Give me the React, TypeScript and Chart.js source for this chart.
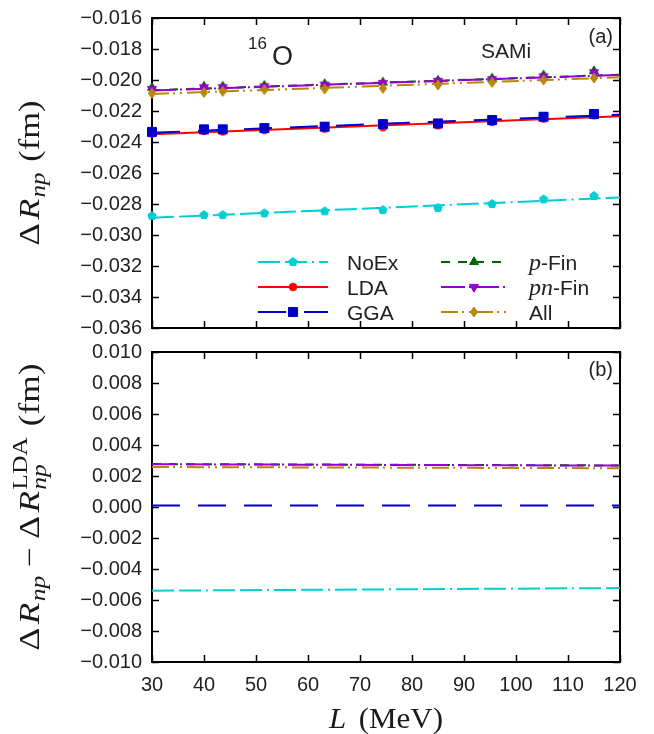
import React, { useEffect, useRef } from "react";
import { Chart, registerables } from "chart.js";
Chart.register(...registerables);

// ---------------- data ----------------
const L_POINTS = [30, 40, 43.6, 51.6, 63.2, 74.4, 85.0, 95.4, 105.3, 115.0];
const NOEX_PTS = [-0.02877, -0.02871, -0.02871, -0.0286, -0.02847, -0.02839, -0.02826, -0.028, -0.0277, -0.02748];
const LDA_PTS = [-0.02345, -0.02329, -0.02332, -0.02323, -0.02314, -0.02305, -0.02292, -0.02271, -0.02249, -0.02228];
const GGA_PTS = [-0.02335, -0.02318, -0.02318, -0.0231, -0.02301, -0.02284, -0.0228, -0.02258, -0.02237, -0.02219];
const PFIN_PTS = [-0.0205, -0.02042, -0.02042, -0.02036, -0.02026, -0.02016, -0.02004, -0.0199, -0.0197, -0.01943];
const PNFIN_PTS = [-0.02058, -0.02047, -0.02047, -0.02041, -0.0203, -0.0202, -0.02006, -0.01994, -0.01976, -0.0195];
const ALL_PTS = [-0.02086, -0.0208, -0.02073, -0.02062, -0.02058, -0.02054, -0.02032, -0.02015, -0.02, -0.01987];

const FIT_L = [30, 120];
const NOEX_FIT = [-0.02889, -0.02758];
const LDA_FIT = [-0.0235, -0.02234];
const GGA_FIT = [-0.0234, -0.02224];
const PFIN_FIT = [-0.02066, -0.01966];
const PNFIN_FIT = [-0.02068, -0.01967];
const ALL_FIT = [-0.0209, -0.01983];

const NOEX_DIFF = [-0.0054, -0.00523];
const GGA_DIFF = [0.0001, 0.0001];
const PFIN_DIFF = [0.00277, 0.00268];
const PNFIN_DIFF = [0.00276, 0.00267];
const ALL_DIFF = [0.00258, 0.0025];

const X_TICKS = [30, 40, 50, 60, 70, 80, 90, 100, 110, 120];
const TOP_Y_TICKS = [-0.036, -0.034, -0.032, -0.03, -0.028, -0.026, -0.024, -0.022, -0.02, -0.018, -0.016];
const BOT_Y_TICKS = [-0.01, -0.008, -0.006, -0.004, -0.002, 0, 0.002, 0.004, 0.006, 0.008, 0.01];

// ---------------- styles ----------------
const SANS = "Liberation Sans";
const SERIF = "Liberation Serif";

function makeMarker(shape: string, color: string): HTMLCanvasElement {
  const size = 16;
  const c = document.createElement("canvas");
  c.width = size;
  c.height = size;
  const ctx = c.getContext("2d") as CanvasRenderingContext2D;
  ctx.fillStyle = color;
  ctx.strokeStyle = color;
  ctx.lineWidth = 1;
  const cx = size / 2,
    cy = size / 2;
  ctx.beginPath();
  const poly = (n: number, r: number, a0: number) => {
    for (let k = 0; k < n; k++) {
      const a = a0 + (k * 2 * Math.PI) / n;
      const px = cx + r * Math.cos(a),
        py = cy + r * Math.sin(a);
      if (k === 0) ctx.moveTo(px, py);
      else ctx.lineTo(px, py);
    }
    ctx.closePath();
  };
  if (shape === "circle") ctx.arc(cx, cy, 3.8, 0, Math.PI * 2);
  else if (shape === "square") ctx.rect(cx - 4.5, cy - 4.5, 9, 9);
  else if (shape === "pentagon") poly(5, 4.4, -Math.PI / 2);
  else if (shape === "triUp") poly(3, 5.2, -Math.PI / 2);
  else if (shape === "triDown") poly(3, 5.2, Math.PI / 2);
  else if (shape === "diamond") {
    ctx.moveTo(cx, cy - 5);
    ctx.lineTo(cx + 3.6, cy);
    ctx.lineTo(cx, cy + 5);
    ctx.lineTo(cx - 3.6, cy);
    ctx.closePath();
  }
  ctx.fill();
  ctx.stroke();
  return c;
}

type Piece = { t?: string; f?: string; dy?: number; gap?: number; sup?: string; sub?: string; supF?: string; subF?: string };

const SERIES = [
  { color: "#00CED1", dash: [22, 5, 22, 5, 2, 5], marker: "pentagon", pts: NOEX_PTS, fit: NOEX_FIT, diff: NOEX_DIFF,
    label: [{ t: "NoEx", f: `21px ${SANS}` }] as Piece[] },
  { color: "#FF0000", dash: [], marker: "circle", pts: LDA_PTS, fit: LDA_FIT, diff: null as number[] | null,
    label: [{ t: "LDA", f: `21px ${SANS}` }] as Piece[] },
  { color: "#0000CD", dash: [28, 18], marker: "square", pts: GGA_PTS, fit: GGA_FIT, diff: GGA_DIFF,
    label: [{ t: "GGA", f: `21px ${SANS}` }] as Piece[] },
  { color: "#006400", dash: [9, 8], marker: "triUp", pts: PFIN_PTS, fit: PFIN_FIT, diff: PFIN_DIFF,
    label: [{ t: "p", f: `italic 24px ${SERIF}` }, { t: "-Fin", f: `21px ${SANS}` }] as Piece[] },
  { color: "#9400D3", dash: [24, 4, 2, 4], marker: "triDown", pts: PNFIN_PTS, fit: PNFIN_FIT, diff: PNFIN_DIFF,
    label: [{ t: "pn", f: `italic 24px ${SERIF}` }, { t: "-Fin", f: `21px ${SANS}` }] as Piece[] },
  { color: "#B8860B", dash: [17, 4, 2, 5, 2, 5], marker: "diamond", pts: ALL_PTS, fit: ALL_FIT, diff: ALL_DIFF,
    label: [{ t: "All", f: `21px ${SANS}` }] as Piece[] },
];

const fmt = (v: number) => (v < -1e-9 ? "\u2212" : "") + Math.abs(v).toFixed(3);

function richWidth(ctx: CanvasRenderingContext2D, pieces: Piece[]) {
  let w = 0;
  for (const p of pieces) {
    if (p.sup !== undefined) {
      ctx.font = p.supF as string;
      const a = ctx.measureText(p.sup).width;
      ctx.font = p.subF as string;
      const b = ctx.measureText(p.sub as string).width;
      w += Math.max(a, b) + (p.gap || 0);
    } else {
      ctx.font = p.f as string;
      w += ctx.measureText(p.t as string).width + (p.gap || 0);
    }
  }
  return w;
}

function drawRich(ctx: CanvasRenderingContext2D, pieces: Piece[], x: number, y: number) {
  let cx = x;
  ctx.textBaseline = "alphabetic";
  ctx.textAlign = "left";
  for (const p of pieces) {
    if (p.sup !== undefined) {
      ctx.font = p.supF as string;
      const a = ctx.measureText(p.sup).width;
      ctx.fillText(p.sup, cx, y - 12);
      ctx.font = p.subF as string;
      const b = ctx.measureText(p.sub as string).width;
      ctx.fillText(p.sub as string, cx, y + 7);
      cx += Math.max(a, b) + (p.gap || 0);
    } else {
      ctx.font = p.f as string;
      ctx.fillText(p.t as string, cx, y + (p.dy || 0));
      cx += ctx.measureText(p.t as string).width + (p.gap || 0);
    }
  }
}

function drawStretched(ctx: CanvasRenderingContext2D, pieces: Piece[], cx: number, cy: number, target: number, rotate: boolean) {
  const w = richWidth(ctx, pieces);
  const s = target / w;
  ctx.save();
  ctx.translate(cx, cy);
  if (rotate) ctx.rotate(-Math.PI / 2);
  ctx.scale(s, 1);
  ctx.fillStyle = "#1a1a1a";
  drawRich(ctx, pieces, -w / 2, 0);
  ctx.restore();
}

const framePlugin = {
  id: "frame",
  beforeDatasetsDraw(chart: any) {
    const { ctx, chartArea: a, scales } = chart;
    ctx.save();
    ctx.strokeStyle = "#000";
    ctx.lineWidth = 1.5;
    const tl = 7;
    ctx.beginPath();
    for (const t of scales.x.ticks) {
      const px = Math.round(scales.x.getPixelForValue(t.value)) + 0.5;
      ctx.moveTo(px, a.bottom);
      ctx.lineTo(px, a.bottom - tl);
      ctx.moveTo(px, a.top);
      ctx.lineTo(px, a.top + tl);
    }
    for (const t of scales.y.ticks) {
      const py = Math.round(scales.y.getPixelForValue(t.value)) + 0.5;
      ctx.moveTo(a.left, py);
      ctx.lineTo(a.left + tl, py);
      ctx.moveTo(a.right, py);
      ctx.lineTo(a.right - tl, py);
    }
    ctx.stroke();
    ctx.lineWidth = 2;
    ctx.strokeRect(a.left, a.top, a.right - a.left, a.bottom - a.top);
    ctx.restore();
  },
};

const topDecor = {
  id: "topDecor",
  afterDraw(chart: any) {
    const { ctx, chartArea: a } = chart;
    const cy = (a.top + a.bottom) / 2;
    drawStretched(
      ctx,
      [
        { t: "\u0394", f: `29px ${SERIF}`, gap: 3 },
        { t: "R", f: `italic 29px ${SERIF}`, gap: 1 },
        { t: "np", f: `italic 21px ${SERIF}`, dy: 6, gap: 9 },
        { t: "(fm)", f: `29px ${SERIF}` },
      ],
      39,
      cy,
      145,
      true
    );
    ctx.save();
    ctx.fillStyle = "#222";
    ctx.textBaseline = "alphabetic";
    ctx.textAlign = "left";
    ctx.font = `17px ${SANS}`;
    ctx.fillText("16", 248, 49);
    ctx.font = `27px ${SANS}`;
    ctx.fillText("O", 272, 65);
    ctx.font = `21px ${SANS}`;
    ctx.fillText("SAMi", 481, 58);
    ctx.textAlign = "right";
    ctx.textBaseline = "middle";
    ctx.font = `20px ${SANS}`;
    ctx.fillText("(a)", 613, 37);
    ctx.restore();

    // legend
    const rows = [262, 287, 312];
    const cols = [
      { x0: 258, x1: 328, xm: 293, tx: 347 },
      { x0: 441, x1: 506, xm: 474, tx: 529 },
    ];
    SERIES.forEach((s, i) => {
      const col = cols[Math.floor(i / 3)];
      const y = rows[i % 3];
      ctx.save();
      ctx.strokeStyle = s.color;
      ctx.lineWidth = 2;
      ctx.setLineDash(s.dash);
      ctx.beginPath();
      ctx.moveTo(col.x0, y);
      ctx.lineTo(col.x1, y);
      ctx.stroke();
      ctx.setLineDash([]);
      const m = makeMarker(s.marker, s.color);
      ctx.drawImage(m, col.xm - m.width / 2, y - m.height / 2);
      ctx.fillStyle = "#222";
      drawRich(ctx, s.label, col.tx, y + 7.5);
      ctx.restore();
    });
  },
};

const botDecor = {
  id: "botDecor",
  afterDraw(chart: any) {
    const { ctx, chartArea: a } = chart;
    const cy = (a.top + a.bottom) / 2;
    drawStretched(
      ctx,
      [
        { t: "\u0394", f: `29px ${SERIF}`, gap: 3 },
        { t: "R", f: `italic 29px ${SERIF}`, gap: 1 },
        { t: "np", f: `italic 21px ${SERIF}`, dy: 6, gap: 7 },
        { t: "\u2212", f: `29px ${SERIF}`, gap: 7 },
        { t: "\u0394", f: `29px ${SERIF}`, gap: 3 },
        { t: "R", f: `italic 29px ${SERIF}`, gap: 1 },
        { sup: "LDA", sub: "np", supF: `21px ${SERIF}`, subF: `italic 21px ${SERIF}`, gap: 9 },
        { t: "(fm)", f: `29px ${SERIF}` },
      ],
      39,
      cy,
      287,
      true
    );
    drawStretched(
      ctx,
      [
        { t: "L", f: `italic 30px ${SERIF}`, gap: 12 },
        { t: "(MeV)", f: `30px ${SERIF}` },
      ],
      (a.left + a.right) / 2,
      388,
      114,
      false
    );
    ctx.save();
    ctx.fillStyle = "#222";
    ctx.textAlign = "right";
    ctx.textBaseline = "middle";
    ctx.font = `20px ${SANS}`;
    ctx.fillText("(b)", 613, 30);
    ctx.restore();
  },
};

function zeroPad(ax: any) {
  ax.paddingTop = 0;
  ax.paddingBottom = 0;
  ax.paddingLeft = 0;
  ax.paddingRight = 0;
}

function xScale(showLabels: boolean, height: number) {
  return {
    type: "linear",
    min: 30,
    max: 120,
    afterBuildTicks: (ax: any) => {
      ax.ticks = X_TICKS.map((v) => ({ value: v }));
    },
    ticks: {
      display: showLabels,
      padding: 11,
      color: "#222",
      font: { family: SANS, size: 20 },
      maxRotation: 0,
      autoSkip: false,
      callback: (v: any) => String(v),
    },
    grid: { display: false, drawTicks: false },
    border: { display: false },
    afterFit: (ax: any) => {
      ax.height = height;
      zeroPad(ax);
    },
  };
}

function yScale(min: number, max: number, ticks: number[]) {
  return {
    type: "linear",
    min,
    max,
    afterBuildTicks: (ax: any) => {
      ax.ticks = ticks.map((v) => ({ value: v }));
    },
    ticks: {
      padding: 10,
      color: "#222",
      font: { family: SANS, size: 20 },
      autoSkip: false,
      callback: (v: any) => fmt(Number(v)),
    },
    grid: { display: false, drawTicks: false },
    border: { display: false },
    afterFit: (ax: any) => {
      ax.width = 152;
      zeroPad(ax);
    },
  };
}

export default function App() {
  const topRef = useRef<HTMLCanvasElement>(null);
  const botRef = useRef<HTMLCanvasElement>(null);

  useEffect(() => {
    const topSets: any[] = [];
    SERIES.forEach((s, i) => {
      topSets.push({
        type: "line",
        data: FIT_L.map((x, k) => ({ x, y: s.fit[k] })),
        borderColor: s.color,
        borderWidth: 2,
        borderDash: s.dash,
        pointRadius: 0,
        fill: false,
        order: 100 - 2 * i,
      });
      topSets.push({
        type: "line",
        data: L_POINTS.map((x, k) => ({ x, y: s.pts[k] })),
        showLine: false,
        pointStyle: makeMarker(s.marker, s.color),
        pointRadius: 5,
        borderColor: s.color,
        backgroundColor: s.color,
        clip: false,
        order: 99 - 2 * i,
      });
    });

    const botSets: any[] = [];
    SERIES.forEach((s, i) => {
      if (!s.diff) return;
      const d = s.diff;
      botSets.push({
        type: "line",
        data: FIT_L.map((x, k) => ({ x, y: d[k] })),
        borderColor: s.color,
        borderWidth: 2,
        borderDash: s.dash,
        pointRadius: 0,
        fill: false,
        order: 100 - i,
      });
    });

    const common = {
      animation: false,
      responsive: false,
      events: [],
      plugins: { legend: { display: false }, tooltip: { enabled: false } },
    };

    const top = new Chart(topRef.current as HTMLCanvasElement, {
      type: "line",
      data: { datasets: topSets },
      options: {
        ...common,
        layout: { padding: { top: 18, right: 34, left: 0, bottom: 0 } },
        scales: {
          x: xScale(false, 12),
          y: yScale(-0.036, -0.016, TOP_Y_TICKS),
        },
      } as any,
      plugins: [framePlugin, topDecor],
    });

    const bot = new Chart(botRef.current as HTMLCanvasElement, {
      type: "line",
      data: { datasets: botSets },
      options: {
        ...common,
        layout: { padding: { top: 12, right: 34, left: 0, bottom: 0 } },
        scales: {
          x: xScale(true, 72),
          y: yScale(-0.01, 0.01, BOT_Y_TICKS),
        },
      } as any,
      plugins: [framePlugin, botDecor],
    });

    return () => {
      top.destroy();
      bot.destroy();
    };
  }, []);

  return (
    <div style={{ position: "absolute", left: 0, top: 0, width: 654, height: 734, background: "#fff" }}>
      <canvas ref={topRef} width={654} height={340} style={{ position: "absolute", left: 0, top: 0, width: 654, height: 340 }} />
      <canvas ref={botRef} width={654} height={394} style={{ position: "absolute", left: 0, top: 340, width: 654, height: 394 }} />
    </div>
  );
}
